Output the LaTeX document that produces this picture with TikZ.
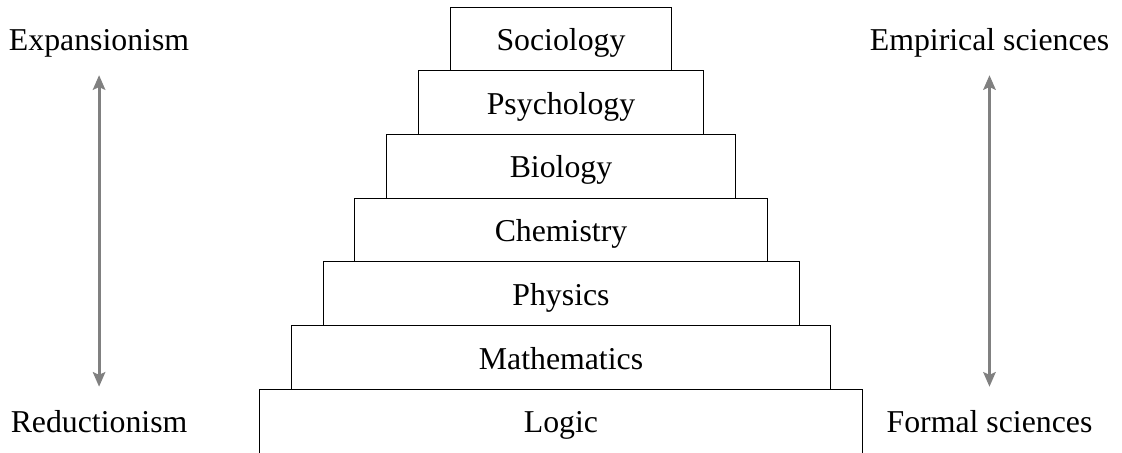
\documentclass[tikz,border=0pt]{standalone}
\usepackage{fontspec}
\setmainfont{Liberation Serif}
\usetikzlibrary{positioning,arrows.meta}

\begin{document}
\begin{tikzpicture}[
  node distance=0pt,
  layer/.style={minimum height=1cm, inner sep=0pt, outer sep=0pt, text height=12.6pt, text depth=2.2pt, font=\fontsize{14.2}{17}\selectfont},
  side/.style={inner sep=0pt, anchor=base, font=\fontsize{14.2}{17}\selectfont},
  updown/.style={{Stealth[length=6.5pt,width=5.5pt,inset=1.2pt]}-{Stealth[length=6.5pt,width=5.5pt,inset=1.2pt]}, gray, line width=1.4pt}]
\useasboundingbox (0,0) rectangle (17.61,7.11);
\node[layer, minimum width=9.47cm] (logic) at (8.805,0.5) {Logic};
\node[layer, draw, minimum width=8.47cm, above=of logic] (math) {Mathematics};
\node[layer, draw, minimum width=7.47cm, above=of math] (phys) {Physics};
\node[layer, draw, minimum width=6.47cm, above=of phys] (chem) {Chemistry};
\node[layer, draw, minimum width=5.47cm, above=of chem] (bio) {Biology};
\node[layer, draw, minimum width=4.47cm, above=of bio] (psych) {Psychology};
\node[layer, draw, minimum width=3.47cm, above=of psych] (socio) {Sociology};
% open box at the bottom
\draw (logic.south west) -- (logic.north west) -- (logic.north east) -- (logic.south east);
% side scales
\coordinate (lbot) at (1.555,1.04);
\coordinate (ltop) at (1.555,5.93);
\coordinate (rbot) at (15.53,1.04);
\coordinate (rtop) at (15.53,5.93);
\node[side] (expan) at (ltop |- socio.base) {Expansionism};
\node[side] (reduc) at (lbot |- logic.base) {Reductionism};
\node[side] (empir) at (rtop |- socio.base) {Empirical sciences};
\node[side] (formal) at (rbot |- logic.base) {Formal sciences};
\draw[updown] (lbot) -- (ltop);
\draw[updown] (rbot) -- (rtop);
\end{tikzpicture}
\end{document}
